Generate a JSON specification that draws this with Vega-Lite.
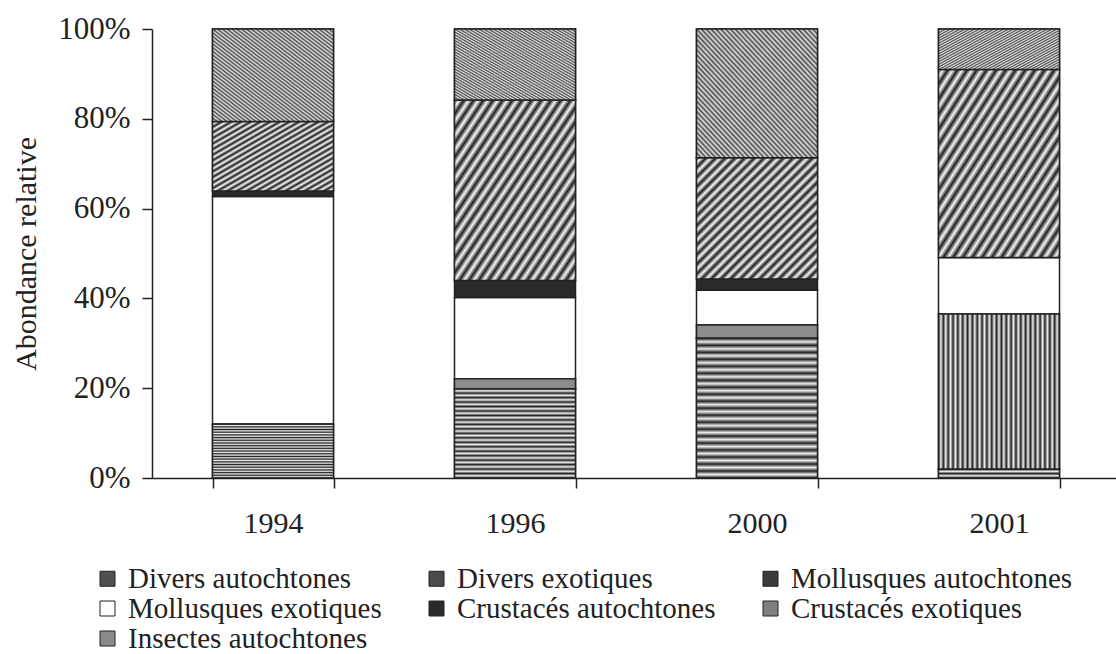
{
  "$schema": "https://vega.github.io/schema/vega-lite/v6.json",
  "width": 968,
  "height": 449,
  "autosize": {"type": "none"},
  "padding": {"left": 152, "top": 29, "right": -4, "bottom": 176},
  "background": "white",
  "data": {
    "values": [
      {"annee": "1994", "categorie": "Divers autochtones", "valeur": 12.0},
      {"annee": "1994", "categorie": "Mollusques exotiques", "valeur": 50.7},
      {"annee": "1994", "categorie": "Crustacés autochtones", "valeur": 1.2},
      {"annee": "1994", "categorie": "Crustacés exotiques", "valeur": 15.5},
      {"annee": "1994", "categorie": "Insectes autochtones", "valeur": 20.6},
      {"annee": "1996", "categorie": "Divers autochtones", "valeur": 19.9},
      {"annee": "1996", "categorie": "Mollusques autochtones", "valeur": 2.2},
      {"annee": "1996", "categorie": "Mollusques exotiques", "valeur": 18.1},
      {"annee": "1996", "categorie": "Crustacés autochtones", "valeur": 3.8},
      {"annee": "1996", "categorie": "Crustacés exotiques", "valeur": 40.2},
      {"annee": "1996", "categorie": "Insectes autochtones", "valeur": 15.8},
      {"annee": "2000", "categorie": "Divers autochtones", "valeur": 31.1},
      {"annee": "2000", "categorie": "Mollusques autochtones", "valeur": 3.0},
      {"annee": "2000", "categorie": "Mollusques exotiques", "valeur": 7.7},
      {"annee": "2000", "categorie": "Crustacés autochtones", "valeur": 2.5},
      {"annee": "2000", "categorie": "Crustacés exotiques", "valeur": 27.0},
      {"annee": "2000", "categorie": "Insectes autochtones", "valeur": 28.7},
      {"annee": "2001", "categorie": "Divers autochtones", "valeur": 2.0},
      {"annee": "2001", "categorie": "Divers exotiques", "valeur": 34.5},
      {"annee": "2001", "categorie": "Mollusques exotiques", "valeur": 12.6},
      {"annee": "2001", "categorie": "Crustacés exotiques", "valeur": 41.9},
      {"annee": "2001", "categorie": "Insectes autochtones", "valeur": 9.0}
    ]
  },
  "transform": [
    {"calculate": "indexof(['Divers autochtones','Divers exotiques','Mollusques autochtones','Mollusques exotiques','Crustacés autochtones','Crustacés exotiques','Insectes autochtones'], datum.categorie)", "as": "rang"},
    {"stack": "valeur", "groupby": ["annee"], "sort": [{"field": "rang", "order": "ascending"}], "as": ["v0", "v1"]}
  ],
  "encoding": {
    "x": {
      "field": "annee", "type": "ordinal",
      "scale": {"paddingInner": 0.5, "paddingOuter": 0.25},
      "axis": {"title": null, "labelAngle": 0, "tickBand": "extent", "tickSize": 10, "labelPadding": 20}
    },
    "y": {
      "field": "v1", "type": "quantitative",
      "scale": {"domain": [0, 100], "nice": false},
      "axis": {"title": "Abondance relative", "values": [0, 20, 40, 60, 80, 100], "labelExpr": "datum.value + '%'", "tickSize": 10, "labelPadding": 12, "labelFontSize": 31, "titlePadding": 16}
    },
    "y2": {"field": "v0"}
  },
  "layer": [
    {
      "mark": {"type": "bar", "stroke": "#222", "strokeWidth": 1.5},
      "encoding": {
        "color": {
          "field": "categorie", "type": "nominal",
          "scale": {
            "domain": ["Divers autochtones", "Divers exotiques", "Mollusques autochtones", "Mollusques exotiques", "Crustacés autochtones", "Crustacés exotiques", "Insectes autochtones"],
            "range": ["#505050", "#4a4a4a", "#3a3a3a", "#ffffff", "#2a2a2a", "#808080", "#8a8a8a"]
          },
          "legend": {
            "orient": "none", "legendX": -59, "legendY": 535,
            "direction": "horizontal", "columns": 3, "title": null,
            "symbolType": "square", "symbolSize": 225,
            "symbolStrokeColor": "#222", "symbolStrokeWidth": 1,
            "labelFontSize": 29, "labelColor": "#222", "labelOffset": 6,
            "columnPadding": 40, "rowPadding": 0, "labelLimit": 0
          }
        }
      }
    },
    {
      "transform": [{"filter": "datum.categorie === 'Mollusques autochtones'"}],
      "mark": {"type": "bar", "stroke": "#222", "strokeWidth": 1.5, "fill": "#8c8c8c"}
    },
    {
      "transform": [{"filter": "datum.categorie === 'Divers autochtones'"}],
      "mark": {"type": "bar", "stroke": "#222", "strokeWidth": 1.5,
        "fill": {"gradient": "linear", "x1": 0, "y1": 0, "x2": 0, "y2": 1, "stops": [
          {"offset": 0, "color": "#222"}, {"offset": 0.025, "color": "#eee"}, {"offset": 0.05, "color": "#222"}, {"offset": 0.075, "color": "#eee"},
          {"offset": 0.1, "color": "#222"}, {"offset": 0.125, "color": "#eee"}, {"offset": 0.15, "color": "#222"}, {"offset": 0.175, "color": "#eee"},
          {"offset": 0.2, "color": "#222"}, {"offset": 0.225, "color": "#eee"}, {"offset": 0.25, "color": "#222"}, {"offset": 0.275, "color": "#eee"},
          {"offset": 0.3, "color": "#222"}, {"offset": 0.325, "color": "#eee"}, {"offset": 0.35, "color": "#222"}, {"offset": 0.375, "color": "#eee"},
          {"offset": 0.4, "color": "#222"}, {"offset": 0.425, "color": "#eee"}, {"offset": 0.45, "color": "#222"}, {"offset": 0.475, "color": "#eee"},
          {"offset": 0.5, "color": "#222"}, {"offset": 0.525, "color": "#eee"}, {"offset": 0.55, "color": "#222"}, {"offset": 0.575, "color": "#eee"},
          {"offset": 0.6, "color": "#222"}, {"offset": 0.625, "color": "#eee"}, {"offset": 0.65, "color": "#222"}, {"offset": 0.675, "color": "#eee"},
          {"offset": 0.7, "color": "#222"}, {"offset": 0.725, "color": "#eee"}, {"offset": 0.75, "color": "#222"}, {"offset": 0.775, "color": "#eee"},
          {"offset": 0.8, "color": "#222"}, {"offset": 0.825, "color": "#eee"}, {"offset": 0.85, "color": "#222"}, {"offset": 0.875, "color": "#eee"},
          {"offset": 0.9, "color": "#222"}, {"offset": 0.925, "color": "#eee"}, {"offset": 0.95, "color": "#222"}, {"offset": 0.975, "color": "#eee"},
          {"offset": 1, "color": "#222"}
        ]}
      }
    },
    {
      "transform": [{"filter": "datum.categorie === 'Divers exotiques'"}],
      "mark": {"type": "bar", "stroke": "#222", "strokeWidth": 1.5,
        "fill": {"gradient": "linear", "x1": 0, "y1": 0, "x2": 1, "y2": 0, "stops": [
          {"offset": 0, "color": "#222"}, {"offset": 0.02, "color": "#f0f0f0"}, {"offset": 0.04, "color": "#222"}, {"offset": 0.06, "color": "#f0f0f0"},
          {"offset": 0.08, "color": "#222"}, {"offset": 0.1, "color": "#f0f0f0"}, {"offset": 0.12, "color": "#222"}, {"offset": 0.14, "color": "#f0f0f0"},
          {"offset": 0.16, "color": "#222"}, {"offset": 0.18, "color": "#f0f0f0"}, {"offset": 0.2, "color": "#222"}, {"offset": 0.22, "color": "#f0f0f0"},
          {"offset": 0.24, "color": "#222"}, {"offset": 0.26, "color": "#f0f0f0"}, {"offset": 0.28, "color": "#222"}, {"offset": 0.3, "color": "#f0f0f0"},
          {"offset": 0.32, "color": "#222"}, {"offset": 0.34, "color": "#f0f0f0"}, {"offset": 0.36, "color": "#222"}, {"offset": 0.38, "color": "#f0f0f0"},
          {"offset": 0.4, "color": "#222"}, {"offset": 0.42, "color": "#f0f0f0"}, {"offset": 0.44, "color": "#222"}, {"offset": 0.46, "color": "#f0f0f0"},
          {"offset": 0.48, "color": "#222"}, {"offset": 0.5, "color": "#f0f0f0"}, {"offset": 0.52, "color": "#222"}, {"offset": 0.54, "color": "#f0f0f0"},
          {"offset": 0.56, "color": "#222"}, {"offset": 0.58, "color": "#f0f0f0"}, {"offset": 0.6, "color": "#222"}, {"offset": 0.62, "color": "#f0f0f0"},
          {"offset": 0.64, "color": "#222"}, {"offset": 0.66, "color": "#f0f0f0"}, {"offset": 0.68, "color": "#222"}, {"offset": 0.7, "color": "#f0f0f0"},
          {"offset": 0.72, "color": "#222"}, {"offset": 0.74, "color": "#f0f0f0"}, {"offset": 0.76, "color": "#222"}, {"offset": 0.78, "color": "#f0f0f0"},
          {"offset": 0.8, "color": "#222"}, {"offset": 0.82, "color": "#f0f0f0"}, {"offset": 0.84, "color": "#222"}, {"offset": 0.86, "color": "#f0f0f0"},
          {"offset": 0.88, "color": "#222"}, {"offset": 0.9, "color": "#f0f0f0"}, {"offset": 0.92, "color": "#222"}, {"offset": 0.94, "color": "#f0f0f0"},
          {"offset": 0.96, "color": "#222"}, {"offset": 0.98, "color": "#f0f0f0"}, {"offset": 1, "color": "#222"}
        ]}
      }
    },
    {
      "transform": [{"filter": "datum.categorie === 'Crustacés exotiques'"}],
      "mark": {"type": "bar", "stroke": "#222", "strokeWidth": 1.5,
        "fill": {"gradient": "linear", "x1": 0, "y1": 0, "x2": 1, "y2": 1, "stops": [
          {"offset": 0, "color": "#1e1e1e"}, {"offset": 0.02, "color": "#f8f8f8"}, {"offset": 0.04, "color": "#1e1e1e"}, {"offset": 0.06, "color": "#f8f8f8"},
          {"offset": 0.08, "color": "#1e1e1e"}, {"offset": 0.1, "color": "#f8f8f8"}, {"offset": 0.12, "color": "#1e1e1e"}, {"offset": 0.14, "color": "#f8f8f8"},
          {"offset": 0.16, "color": "#1e1e1e"}, {"offset": 0.18, "color": "#f8f8f8"}, {"offset": 0.2, "color": "#1e1e1e"}, {"offset": 0.22, "color": "#f8f8f8"},
          {"offset": 0.24, "color": "#1e1e1e"}, {"offset": 0.26, "color": "#f8f8f8"}, {"offset": 0.28, "color": "#1e1e1e"}, {"offset": 0.3, "color": "#f8f8f8"},
          {"offset": 0.32, "color": "#1e1e1e"}, {"offset": 0.34, "color": "#f8f8f8"}, {"offset": 0.36, "color": "#1e1e1e"}, {"offset": 0.38, "color": "#f8f8f8"},
          {"offset": 0.4, "color": "#1e1e1e"}, {"offset": 0.42, "color": "#f8f8f8"}, {"offset": 0.44, "color": "#1e1e1e"}, {"offset": 0.46, "color": "#f8f8f8"},
          {"offset": 0.48, "color": "#1e1e1e"}, {"offset": 0.5, "color": "#f8f8f8"}, {"offset": 0.52, "color": "#1e1e1e"}, {"offset": 0.54, "color": "#f8f8f8"},
          {"offset": 0.56, "color": "#1e1e1e"}, {"offset": 0.58, "color": "#f8f8f8"}, {"offset": 0.6, "color": "#1e1e1e"}, {"offset": 0.62, "color": "#f8f8f8"},
          {"offset": 0.64, "color": "#1e1e1e"}, {"offset": 0.66, "color": "#f8f8f8"}, {"offset": 0.68, "color": "#1e1e1e"}, {"offset": 0.7, "color": "#f8f8f8"},
          {"offset": 0.72, "color": "#1e1e1e"}, {"offset": 0.74, "color": "#f8f8f8"}, {"offset": 0.76, "color": "#1e1e1e"}, {"offset": 0.78, "color": "#f8f8f8"},
          {"offset": 0.8, "color": "#1e1e1e"}, {"offset": 0.82, "color": "#f8f8f8"}, {"offset": 0.84, "color": "#1e1e1e"}, {"offset": 0.86, "color": "#f8f8f8"},
          {"offset": 0.88, "color": "#1e1e1e"}, {"offset": 0.9, "color": "#f8f8f8"}, {"offset": 0.92, "color": "#1e1e1e"}, {"offset": 0.94, "color": "#f8f8f8"},
          {"offset": 0.96, "color": "#1e1e1e"}, {"offset": 0.98, "color": "#f8f8f8"}, {"offset": 1, "color": "#1e1e1e"}
        ]}
      }
    },
    {
      "transform": [{"filter": "datum.categorie === 'Insectes autochtones'"}],
      "mark": {"type": "bar", "stroke": "#222", "strokeWidth": 1.5,
        "fill": {"gradient": "linear", "x1": 1, "y1": 0, "x2": 0, "y2": 1, "stops": [
          {"offset": 0, "color": "#4a4a4a"}, {"offset": 0.01, "color": "#e4e4e4"}, {"offset": 0.02, "color": "#4a4a4a"}, {"offset": 0.03, "color": "#e4e4e4"},
          {"offset": 0.04, "color": "#4a4a4a"}, {"offset": 0.05, "color": "#e4e4e4"}, {"offset": 0.06, "color": "#4a4a4a"}, {"offset": 0.07, "color": "#e4e4e4"},
          {"offset": 0.08, "color": "#4a4a4a"}, {"offset": 0.09, "color": "#e4e4e4"}, {"offset": 0.1, "color": "#4a4a4a"}, {"offset": 0.11, "color": "#e4e4e4"},
          {"offset": 0.12, "color": "#4a4a4a"}, {"offset": 0.13, "color": "#e4e4e4"}, {"offset": 0.14, "color": "#4a4a4a"}, {"offset": 0.15, "color": "#e4e4e4"},
          {"offset": 0.16, "color": "#4a4a4a"}, {"offset": 0.17, "color": "#e4e4e4"}, {"offset": 0.18, "color": "#4a4a4a"}, {"offset": 0.19, "color": "#e4e4e4"},
          {"offset": 0.2, "color": "#4a4a4a"}, {"offset": 0.21, "color": "#e4e4e4"}, {"offset": 0.22, "color": "#4a4a4a"}, {"offset": 0.23, "color": "#e4e4e4"},
          {"offset": 0.24, "color": "#4a4a4a"}, {"offset": 0.25, "color": "#e4e4e4"}, {"offset": 0.26, "color": "#4a4a4a"}, {"offset": 0.27, "color": "#e4e4e4"},
          {"offset": 0.28, "color": "#4a4a4a"}, {"offset": 0.29, "color": "#e4e4e4"}, {"offset": 0.3, "color": "#4a4a4a"}, {"offset": 0.31, "color": "#e4e4e4"},
          {"offset": 0.32, "color": "#4a4a4a"}, {"offset": 0.33, "color": "#e4e4e4"}, {"offset": 0.34, "color": "#4a4a4a"}, {"offset": 0.35, "color": "#e4e4e4"},
          {"offset": 0.36, "color": "#4a4a4a"}, {"offset": 0.37, "color": "#e4e4e4"}, {"offset": 0.38, "color": "#4a4a4a"}, {"offset": 0.39, "color": "#e4e4e4"},
          {"offset": 0.4, "color": "#4a4a4a"}, {"offset": 0.41, "color": "#e4e4e4"}, {"offset": 0.42, "color": "#4a4a4a"}, {"offset": 0.43, "color": "#e4e4e4"},
          {"offset": 0.44, "color": "#4a4a4a"}, {"offset": 0.45, "color": "#e4e4e4"}, {"offset": 0.46, "color": "#4a4a4a"}, {"offset": 0.47, "color": "#e4e4e4"},
          {"offset": 0.48, "color": "#4a4a4a"}, {"offset": 0.49, "color": "#e4e4e4"}, {"offset": 0.5, "color": "#4a4a4a"}, {"offset": 0.51, "color": "#e4e4e4"},
          {"offset": 0.52, "color": "#4a4a4a"}, {"offset": 0.53, "color": "#e4e4e4"}, {"offset": 0.54, "color": "#4a4a4a"}, {"offset": 0.55, "color": "#e4e4e4"},
          {"offset": 0.56, "color": "#4a4a4a"}, {"offset": 0.57, "color": "#e4e4e4"}, {"offset": 0.58, "color": "#4a4a4a"}, {"offset": 0.59, "color": "#e4e4e4"},
          {"offset": 0.6, "color": "#4a4a4a"}, {"offset": 0.61, "color": "#e4e4e4"}, {"offset": 0.62, "color": "#4a4a4a"}, {"offset": 0.63, "color": "#e4e4e4"},
          {"offset": 0.64, "color": "#4a4a4a"}, {"offset": 0.65, "color": "#e4e4e4"}, {"offset": 0.66, "color": "#4a4a4a"}, {"offset": 0.67, "color": "#e4e4e4"},
          {"offset": 0.68, "color": "#4a4a4a"}, {"offset": 0.69, "color": "#e4e4e4"}, {"offset": 0.7, "color": "#4a4a4a"}, {"offset": 0.71, "color": "#e4e4e4"},
          {"offset": 0.72, "color": "#4a4a4a"}, {"offset": 0.73, "color": "#e4e4e4"}, {"offset": 0.74, "color": "#4a4a4a"}, {"offset": 0.75, "color": "#e4e4e4"},
          {"offset": 0.76, "color": "#4a4a4a"}, {"offset": 0.77, "color": "#e4e4e4"}, {"offset": 0.78, "color": "#4a4a4a"}, {"offset": 0.79, "color": "#e4e4e4"},
          {"offset": 0.8, "color": "#4a4a4a"}, {"offset": 0.81, "color": "#e4e4e4"}, {"offset": 0.82, "color": "#4a4a4a"}, {"offset": 0.83, "color": "#e4e4e4"},
          {"offset": 0.84, "color": "#4a4a4a"}, {"offset": 0.85, "color": "#e4e4e4"}, {"offset": 0.86, "color": "#4a4a4a"}, {"offset": 0.87, "color": "#e4e4e4"},
          {"offset": 0.88, "color": "#4a4a4a"}, {"offset": 0.89, "color": "#e4e4e4"}, {"offset": 0.9, "color": "#4a4a4a"}, {"offset": 0.91, "color": "#e4e4e4"},
          {"offset": 0.92, "color": "#4a4a4a"}, {"offset": 0.93, "color": "#e4e4e4"}, {"offset": 0.94, "color": "#4a4a4a"}, {"offset": 0.95, "color": "#e4e4e4"},
          {"offset": 0.96, "color": "#4a4a4a"}, {"offset": 0.97, "color": "#e4e4e4"}, {"offset": 0.98, "color": "#4a4a4a"}, {"offset": 0.99, "color": "#e4e4e4"},
          {"offset": 1, "color": "#4a4a4a"}
        ]}
      }
    }
  ],
  "config": {
    "font": "Liberation Serif",
    "view": {"stroke": null},
    "axis": {
      "domainColor": "#222", "tickColor": "#222", "labelColor": "#222", "titleColor": "#222",
      "domainWidth": 1.5, "tickWidth": 1.5, "grid": false,
      "labelFontSize": 30, "titleFontSize": 30, "titleFontWeight": "normal"
    }
  }
}
